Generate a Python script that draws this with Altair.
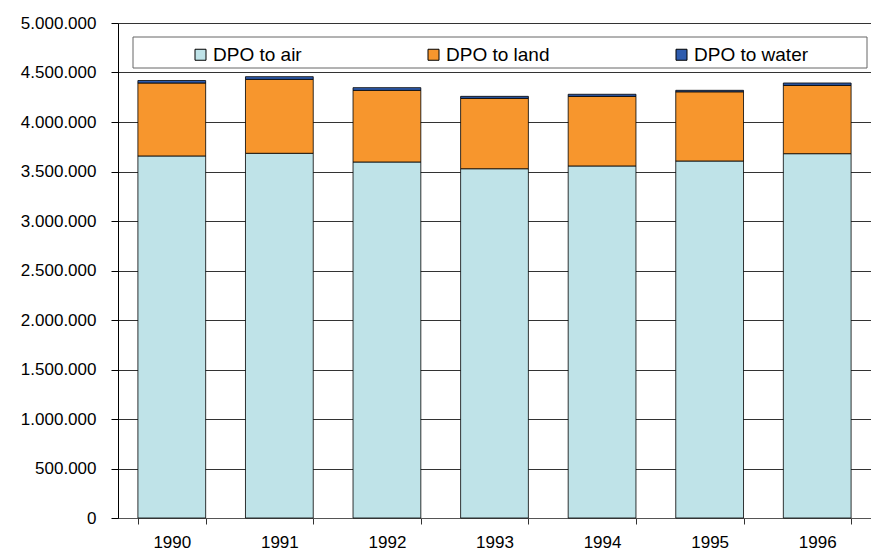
import altair as alt
import pandas as pd

years = ["1990", "1991", "1992", "1993", "1994", "1995", "1996"]
series = ["DPO to air", "DPO to land", "DPO to water"]
air = [3657000, 3684000, 3596000, 3528000, 3556000, 3606000, 3680000]
land = [737000, 747000, 724000, 711000, 703000, 699000, 690000]
water = [25000, 27000, 27000, 20000, 21000, 15000, 24000]
colors = ["#BFE3E8", "#F7962D", "#2E5CAE"]
y_ticks = [0, 500000, 1000000, 1500000, 2000000, 2500000, 3000000,
           3500000, 4000000, 4500000, 5000000]

rows = []
for vals, name, k in [(air, series[0], 0), (land, series[1], 1), (water, series[2], 2)]:
    for yr, v in zip(years, vals):
        rows.append({"year": yr, "series": name, "value": v, "order": k})
df = pd.DataFrame(rows)

box = alt.Chart(alt.Data(values=[{"k": 1}])).mark_rect(
    fill="white", stroke="#666666", strokeWidth=1
).encode(
    x=alt.value(15), x2=alt.value(749), y=alt.value(14), y2=alt.value(45)
)

bars = alt.Chart(df).mark_bar(stroke="black", strokeWidth=0.8).encode(
    x=alt.X("year:N", sort=years,
            scale=alt.Scale(paddingInner=0.37, paddingOuter=0.185),
            axis=alt.Axis(title=None, labelAngle=0, tickBand="extent",
                          tickSize=6, tickColor="#333333", domainColor="#555555",
                          labelPadding=10, labelFontSize=17, labelColor="black",
                          grid=False)),
    y=alt.Y("value:Q", stack="zero",
            scale=alt.Scale(domain=[0, 5000000], nice=False),
            axis=alt.Axis(title=None, values=y_ticks, tickSize=7,
                          tickColor="black", domainColor="black",
                          labelPadding=15, labelFontSize=17, labelColor="black",
                          labelExpr="join(split(format(datum.value, ','), ','), '.')",
                          grid=True, gridColor="#333333", gridWidth=1)),
    color=alt.Color("series:N",
                    scale=alt.Scale(domain=series, range=colors),
                    legend=alt.Legend(title=None, orient="none", direction="horizontal",
                                      legendX=73, legendY=22, padding=0,
                                      symbolType="square", symbolSize=121,
                                      symbolStrokeColor="black", symbolStrokeWidth=1,
                                      labelFontSize=19, labelOffset=3,
                                      columnPadding=122, labelColor="black")),
    order=alt.Order("order:Q"),
)

chart = alt.layer(box, bars).properties(
    width=753, height=495,
    autosize=alt.AutoSizeParams(type="none"),
    padding={"left": 110, "top": 15, "right": 0, "bottom": 35},
).configure(font="Liberation Sans").configure_view(stroke="transparent")

chart.save("out.html", embed_options={"renderer": "svg", "actions": False})
